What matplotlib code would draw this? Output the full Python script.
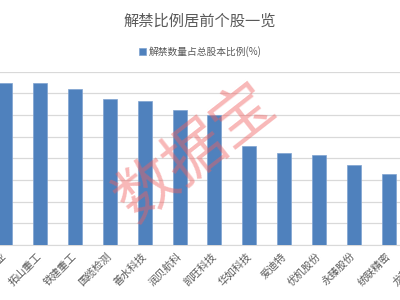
import matplotlib
matplotlib.use("Agg")
import matplotlib.pyplot as plt

plt.rcParams['font.family'] = ['Noto Sans CJK SC', 'DejaVu Sans']

stocks = ["某某企业", "拓山重工", "铁建重工", "国缆检测", "善水科技", "润贝航科",
          "凯旺科技", "华如科技", "爱迪特", "优机股份", "永臻股份", "统联精密", "龙某某某"]
ratios = [74.9, 74.9, 72.0, 67.2, 66.6, 62.4, 59.9, 45.5, 42.3, 41.5, 37.1, 32.7, 30.0]

BLUE = "#4f81bd"
GRAY = "#595959"

fig = plt.figure(figsize=(4, 3), dpi=100)
# axes wider than the figure: the reference is a crop of a wider chart
ax = fig.add_axes([-0.0309, 0.1833, 1.134, 0.5777])

x = list(range(len(stocks)))
ax.bar(x, ratios, width=0.4, color=BLUE, edgecolor="#7fa3d1", linewidth=0.5, zorder=3,
       label="解禁数量占总股本比例(%)")
ax.set_xlim(-0.5, 12.5)
ax.set_ylim(0, 80)
ax.set_yticks(range(0, 81, 10))
ax.yaxis.grid(True, color="#d9d9d9", linewidth=0.9, zorder=0)
ax.tick_params(axis="y", left=False, labelleft=False)
ax.tick_params(axis="x", length=0, pad=7)
ax.set_xticks(x)
ax.set_xticklabels(stocks, rotation=45, ha="right", va="center", rotation_mode="anchor",
                   fontsize=7.5, color=GRAY)
for s in ["top", "right", "left"]:
    ax.spines[s].set_visible(False)
ax.spines["bottom"].set_color("#d9d9d9")

fig.text(0.5, 0.93, "解禁比例居前个股一览", ha="center", va="center", fontsize=11, color=GRAY)
fig.legend(loc="center", bbox_to_anchor=(0.5, 0.828), frameon=False, fontsize=7,
           labelcolor=GRAY, handlelength=0.7, handleheight=0.7, handletextpad=0.3)

# watermark
fig.text(0.49, 0.49, "数据宝", ha="center", va="center", fontsize=44, rotation=38,
         color="#f06060", alpha=0.45)

fig.savefig("out.png", dpi=100)
